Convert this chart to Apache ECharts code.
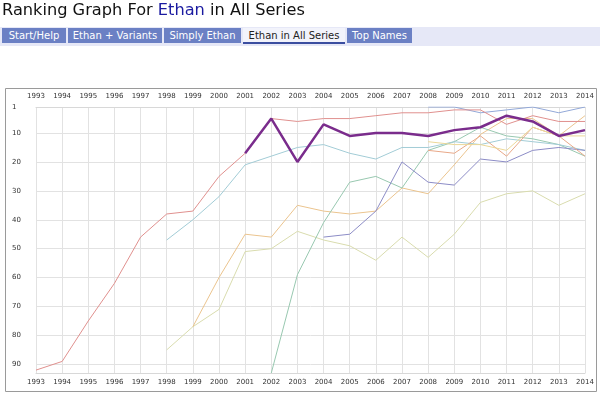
<!DOCTYPE html>
<html><head><meta charset="utf-8">
<script src="https://cdn.jsdelivr.net/npm/echarts@6/dist/echarts.min.js"></script>
<style>
body{margin:0;width:600px;height:395px;overflow:hidden;background:#fff;font-family:"DejaVu Sans",Verdana,sans-serif;position:relative}
#chart{position:absolute;left:0;top:0;width:600px;height:395px}
#title{position:absolute;left:2px;top:0px;font-size:16.2px;line-height:20px;color:#111;white-space:nowrap;z-index:2}
#title span{color:#1a1aa0}
#bar{position:absolute;left:0;top:27px;width:600px;height:19px;background:#e6e8f7;z-index:2}
.tab{position:absolute;top:28px;height:15px;line-height:15px;background:#6b80c4;color:#fff;font-size:10px;text-align:center;z-index:3;white-space:nowrap}
.tab.active{background:#f2f3fb;color:#222;height:14px;border-bottom:2px solid #3b4ea0}
</style></head>
<body>
<div id="chart"></div>
<div id="title">Ranking Graph For <span>Ethan</span> in All Series</div>
<div id="bar"></div>
<div class="tab" style="left:2px;width:64px">Start/Help</div>
<div class="tab" style="left:68px;width:94px">Ethan + Variants</div>
<div class="tab" style="left:164px;width:77px">Simply Ethan</div>
<div class="tab active" style="left:243px;width:102px">Ethan in All Series</div>
<div class="tab" style="left:347px;width:65px">Top Names</div>
<script>
const years = ['1993','1994','1995','1996','1997','1998','1999','2000','2001','2002','2003','2004','2005','2006','2007','2008','2009','2010','2011','2012','2013','2014'];
const rankTicks = [1,10,20,30,40,50,60,70,80,90];
const N = null;
const seriesRed      = [92,89,75,62,46,38,37,25,17,5,6,5,5,4,3,3,2,2,7,4,6,6];
const seriesTeal     = [N,N,N,N,N,47,40,32,21,18,15,14,17,19,15,15,13,14,12,13,14,16];
const seriesGreen    = [N,N,N,N,N,N,N,N,N,93,59,41,27,25,29,16,13,8,11,12,14,18];
const seriesOrange   = [N,N,N,N,N,N,77,60,45,46,35,37,38,37,29,31,21,10.5,5,5,11,4];
const seriesOlive    = [N,N,N,N,N,85,77,71,51,50,44,47,49,54,46,53,45,34,31,30,35,31];
const seriesLavender = [N,N,N,N,N,N,N,N,N,N,N,46,45,37,20,27,28,19,20,16,15,16];
const seriesBlue     = [N,N,N,N,N,N,N,N,N,N,N,N,N,N,N,1,1,3,2,1,3,1];
const seriesSalmon   = [N,N,N,N,N,N,N,N,N,N,N,N,N,N,N,16,17,11,18,8,11,18];
const seriesYellow   = [N,N,N,N,N,N,N,N,N,N,N,N,N,N,N,13,14,14,16,8,11,11];
const seriesEthan    = [N,N,N,N,N,N,N,N,17,5,20,7,11,10,10,11,9,8,4,6,11,9];

const chart = echarts.init(document.getElementById('chart'));
const font = '"DejaVu Sans", Verdana, sans-serif';
function thin(name, data, color){
  return {name, type:'line', data, symbol:'none', lineStyle:{width:1, color}, itemStyle:{color}, silent:true, animation:false};
}
const xCommon = {
  type:'category', data:years, boundaryGap:false,
  axisTick:{show:false},
  axisLine:{show:true, lineStyle:{color:'#d8d8d8', width:1}},
  axisLabel:{fontSize:7, color:'#333', fontFamily:font, interval:0},
};
chart.setOption({
  animation:false,
  grid:{left:36, right:15, top:107, bottom:22},
  graphic:[{type:'rect', shape:{x:5.5, y:88.5, width:591, height:303}, style:{fill:null, stroke:'#9a9a9a', lineWidth:1}, z:-1, silent:true}],
  xAxis:[
    Object.assign({}, xCommon, {position:'top', axisLabel:Object.assign({}, xCommon.axisLabel, {margin:7}), splitLine:{show:true, lineStyle:{color:'#e2e2e2', width:1}}}),
    Object.assign({}, xCommon, {position:'bottom', axisLabel:Object.assign({}, xCommon.axisLabel, {margin:6}), splitLine:{show:false}})
  ],
  yAxis:{
    type:'value', inverse:true, min:1, max:93,
    axisLine:{show:false},
    axisTick:{show:false, customValues:rankTicks},
    axisLabel:{customValues:rankTicks, fontSize:7, color:'#333', fontFamily:font, align:'left', margin:24},
    splitLine:{show:true, lineStyle:{color:'#e2e2e2', width:1}}
  },
  series:[
    thin('Olive', seriesOlive, '#d9dcae'),
    thin('Orange', seriesOrange, '#ebc48e'),
    thin('Green', seriesGreen, '#98c8b0'),
    thin('Teal', seriesTeal, '#a2ccd6'),
    thin('Lavender', seriesLavender, '#8c8cc6'),
    thin('Salmon', seriesSalmon, '#e8a888'),
    thin('Yellow', seriesYellow, '#ecd898'),
    thin('Blue', seriesBlue, '#92a8d8'),
    thin('Red', seriesRed, '#e0908e'),
    {name:'Ethan', type:'line', data:seriesEthan, symbol:'none', lineStyle:{width:2.5, color:'#7a2c8c'}, itemStyle:{color:'#7a2c8c'}, z:5, silent:true}
  ]
});
</script>
</body></html>
